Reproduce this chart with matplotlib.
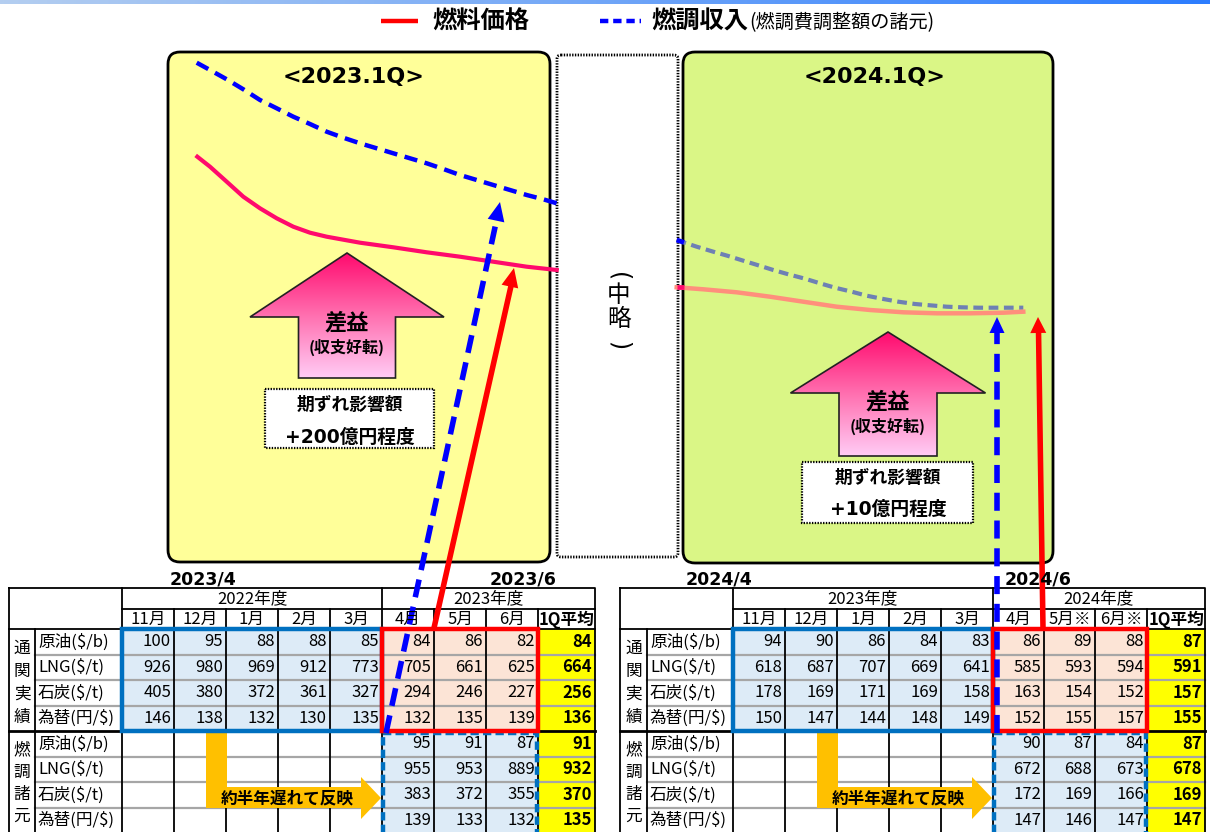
import numpy as np
import matplotlib
matplotlib.use('Agg')
import matplotlib.pyplot as plt
from matplotlib.patches import FancyBboxPatch, Rectangle, Polygon
from matplotlib.colors import LinearSegmentedColormap

plt.rcParams['font.family'] = ['Noto Sans CJK JP', 'DejaVu Sans']
plt.rcParams['lines.scale_dashes'] = False

# ---------------- data ----------------
legend_labels = ['燃料価格', '燃調収入']
legend_note = '(燃調費調整額の諸元)'
panel_titles = ['<2023.1Q>', '<2024.1Q>']
gain_label = '差益'
gain_note = '(収支好転)'
impact_label = '期ずれ影響額'
impact_values = ['+200億円程度', '+10億円程度']
omit_word = '中略'
date_labels_left = ['2023/4', '2023/6']
date_labels_right = ['2024/4', '2024/6']
fiscal_left = ['2022年度', '2023年度']
fiscal_right = ['2023年度', '2024年度']
months_left = ['11月', '12月', '1月', '2月', '3月', '4月', '5月', '6月']
months_right = ['11月', '12月', '1月', '2月', '3月', '4月', '5月※', '6月※']
avg_header = '1Q平均'
items = ['原油($/b)', 'LNG($/t)', '石炭($/t)', '為替(円/$)']
group_labels = ['通関実績', '燃調諸元']
lag_label = '約半年遅れて反映'

customs_2023 = [[100, 95, 88, 88, 85, 84, 86, 82],
                [926, 980, 969, 912, 773, 705, 661, 625],
                [405, 380, 372, 361, 327, 294, 246, 227],
                [146, 138, 132, 130, 135, 132, 135, 139]]
customs_2023_avg = [84, 664, 256, 136]
fuel_2023 = [[95, 91, 87], [955, 953, 889], [383, 372, 355], [139, 133, 132]]
fuel_2023_avg = [91, 932, 370, 135]

customs_2024 = [[94, 90, 86, 84, 83, 86, 89, 88],
                [618, 687, 707, 669, 641, 585, 593, 594],
                [178, 169, 171, 169, 158, 163, 154, 152],
                [150, 147, 144, 148, 149, 152, 155, 157]]
customs_2024_avg = [87, 591, 157, 155]
fuel_2024 = [[90, 87, 84], [672, 688, 673], [172, 169, 166], [147, 146, 147]]
fuel_2024_avg = [87, 678, 169, 147]

# schematic curves (figure pixel units)
price_2023_x = [197.3, 210, 226.7, 243.3, 260, 276.7, 293.3, 310, 326.7, 360, 393.3, 426.7, 460, 493.3, 526.7, 556.7]
price_2023_y = [156.7, 166.7, 181.7, 196.7, 208.3, 218.3, 226.7, 232.7, 236.7, 242.7, 247.3, 252.3, 256.7, 261.7, 266.7, 270]
income_2023_x = [196.7, 210, 226.7, 243.3, 260, 276.7, 293.3, 310, 326.7, 343.3, 360, 376.7, 393.3, 410, 426.7,
                 443.3, 460, 476.7, 493.3, 510, 526.7, 543.3, 556.7]
income_2023_y = [62.7, 70, 79.3, 89.3, 100, 108.3, 116.7, 124, 131.7, 137.7, 143.3, 148.3, 153.3, 158.3, 163.3,
                 169, 175, 180, 185, 190, 195, 199.3, 203.3]
price_2024_x = [676.7, 703.3, 736.7, 770, 803.3, 836.7, 870, 903.3, 936.7, 970, 1003.3, 1023.3]
price_2024_y = [287.3, 289.3, 292.3, 296.7, 301.7, 306.7, 310, 312.3, 313.3, 313.3, 312.7, 311.7]
income_2024_x = [676.7, 696.7, 713.3, 728.3, 743.3, 758.3, 773.3, 788.3, 805, 820, 835, 851.7, 866.7, 881.7,
                 898.3, 915, 930, 946.7, 961.7, 978.3, 995, 1010, 1023.3]
income_2024_y = [240, 246.7, 251.7, 256, 260.7, 265.3, 270, 274.3, 278.7, 283.3, 287.7, 291.7, 295.7, 298.7,
                 301.7, 304, 305.3, 306.7, 307.3, 307.7, 307.7, 307.7, 307.7]

W, H = 1210, 832
fig = plt.figure(figsize=(W / 100, H / 100), dpi=100)
ax = fig.add_axes([0, 0, 1, 1])
ax.axis('off')

BLUE_BOX = '#0070C0'
CELL_BLUE = '#DDEBF7'
CELL_SALMON = '#FCE4D6'
YELLOW = '#FFFF00'
ORANGE = '#FFC000'


def txt(x, y, s, size, bold=False, ha='center', va='center', family=None, color='black', z=10, rot=0):
    kw = {}
    if family is not None:
        kw['family'] = family
    ax.text(x, y, s, fontsize=size, fontweight='bold' if bold else 'normal',
            ha=ha, va=va, color=color, zorder=z, rotation=rot, **kw)


def head(tip, tail, length, width, color, z=9):
    tip = np.array(tip, float)
    tail = np.array(tail, float)
    d = tip - tail
    d /= np.hypot(*d)
    n = np.array([-d[1], d[0]])
    base = tip - d * length
    ax.add_patch(Polygon([tip, base + n * width / 2, base - n * width / 2],
                         closed=True, facecolor=color, edgecolor='none', zorder=z))


# ---------------- top gradient bar ----------------
bar = np.linspace(0, 1, 512)[None, :]
cm_bar = LinearSegmentedColormap.from_list('bar', ['#B4CEF0', '#2C7DFF'])
ax.imshow(bar, extent=(0, W, 4.5, 0), cmap=cm_bar, aspect='auto', zorder=1)

# ---------------- legend ----------------
ax.plot([381, 418], [21, 21], color='#FF0000', lw=3.2, solid_capstyle='butt', zorder=5)
txt(432, 22, legend_labels[0], 17.5, bold=True, ha='left')
ax.plot([600, 641], [21, 21], color='#0000FF', lw=3.2, dashes=(6, 3.5), zorder=5)
txt(651, 22, legend_labels[1], 17.5, bold=True, ha='left')
txt(749, 23, legend_note, 13.8, ha='left')

# ---------------- panels ----------------
ax.add_patch(FancyBboxPatch((168, 52), 382, 510, boxstyle='round,pad=0,rounding_size=12',
                            facecolor='#FFFF99', edgecolor='black', lw=2, zorder=2))
ax.add_patch(FancyBboxPatch((683, 52), 370, 511, boxstyle='round,pad=0,rounding_size=12',
                            facecolor='#DAF686', edgecolor='black', lw=2, zorder=2))
ax.add_patch(FancyBboxPatch((557, 55), 121, 502, boxstyle='round,pad=0,rounding_size=4',
                            facecolor='white', edgecolor='black', lw=2, linestyle=(0, (1, 1)), zorder=2))

txt(354, 77, panel_titles[0], 16, bold=True, family='DejaVu Sans')
txt(875, 77, panel_titles[1], 16, bold=True, family='DejaVu Sans')

# vertical "(中略)"
txt(619, 277, '(', 17, family='DejaVu Sans', rot=-90)
txt(619, 296, omit_word[0], 17)
txt(619, 320, omit_word[1], 17)
txt(619, 346, ')', 17, family='DejaVu Sans', rot=-90)

# curves left
ax.plot(income_2023_x, income_2023_y, color='#0000FF', lw=3.2, dashes=(9.5, 5.5), zorder=6)
ax.plot(price_2023_x, price_2023_y, color='#FF0A6C', lw=3.0, zorder=6)

# curves right (faded pattern style)
ax.plot(income_2024_x, income_2024_y, color='#6E80B4', lw=3.0, dashes=(7, 4), zorder=6)
ax.plot(price_2024_x, price_2024_y, color='#FF8F7C', lw=3.2, zorder=6)
ax.plot([income_2024_x[0], 684], [income_2024_y[0], np.interp(684, income_2024_x, income_2024_y)],
        color='#0000FF', lw=3.4, solid_capstyle='butt', zorder=6.5)
ax.plot([price_2024_x[0], 684], [price_2024_y[0], price_2024_y[0]],
        color='#FF0A6C', lw=3.4, solid_capstyle='butt', zorder=6.5)


# gradient arrows
def grad_arrow(cx, tip_y, wing_y, half_w, shaft_half, bottom):
    verts = [(cx, tip_y), (cx + half_w, wing_y), (cx + shaft_half, wing_y), (cx + shaft_half, bottom),
             (cx - shaft_half, bottom), (cx - shaft_half, wing_y), (cx - half_w, wing_y)]
    poly = Polygon(verts, closed=True, facecolor='none', edgecolor='#222222', lw=1.2, zorder=5)
    ax.add_patch(poly)
    g = np.linspace(0, 1, 256)[:, None]
    cmap = LinearSegmentedColormap.from_list('pk', ['#FF0A6E', '#FF70B0', '#FFCCF5'])
    im = ax.imshow(g, extent=(cx - half_w, cx + half_w, bottom, tip_y), origin='upper',
                   cmap=cmap, aspect='auto', zorder=4)
    im.set_clip_path(poly)


grad_arrow(347, 253, 317, 97, 48.5, 378)
grad_arrow(888, 332, 393, 97.5, 49, 456)

txt(347, 323, gain_label, 16, bold=True)
txt(347, 347, gain_note, 11.5, bold=True)
txt(888, 402, gain_label, 16, bold=True)
txt(888, 426, gain_note, 11.5, bold=True)

ax.add_patch(Rectangle((265, 389), 169, 59, facecolor='white', edgecolor='black', lw=1.6,
                       linestyle=(0, (1, 1)), zorder=5))
ax.add_patch(Rectangle((802, 462), 171, 61, facecolor='white', edgecolor='black', lw=1.6,
                       linestyle=(0, (1, 1)), zorder=5))
txt(350, 405, impact_label, 12.8, bold=True)
txt(350, 437, impact_values[0], 13.5, bold=True, family=['DejaVu Sans', 'Noto Sans CJK JP'])
txt(888, 478, impact_label, 12.8, bold=True)
txt(888, 509, impact_values[1], 13.5, bold=True, family=['DejaVu Sans', 'Noto Sans CJK JP'])

# ---------------- tables ----------------
row_edges = [629 + 25.5 * i for i in range(9)]


def draw_table(edges, months, fiscal, customs, customs_avg, fuel, fuel_avg):
    x0, xl, xi = edges[0], edges[1], edges[2]
    mx = edges[2:11]
    xa0, xa1 = edges[10], edges[11]
    top, h1, h2 = 588, 609, 629
    bottom = row_edges[-1]
    # fills
    for r in range(8):
        y0, y1 = row_edges[r], row_edges[r + 1]
        for c in range(8):
            if r < 4:
                fc = CELL_BLUE if c < 5 else CELL_SALMON
            else:
                fc = 'white' if c < 5 else CELL_BLUE
            ax.add_patch(Rectangle((mx[c], y0), mx[c + 1] - mx[c], y1 - y0, facecolor=fc,
                                   edgecolor='none', zorder=3))
        ax.add_patch(Rectangle((xa0, y0), xa1 - xa0, y1 - y0, facecolor=YELLOW, edgecolor='none', zorder=3))
    # grey row separators
    for r in [1, 2, 3, 5, 6, 7]:
        ax.plot([xl, xa1], [row_edges[r]] * 2, color='#A6A6A6', lw=1.6, zorder=4)
    # black lines
    lk = dict(color='black', lw=1.3, zorder=4.5)
    ax.plot([x0, xa1, xa1, x0, x0], [top, top, bottom, bottom, top], **lk)
    ax.plot([xi, xa1], [h1, h1], **lk)
    ax.plot([x0, xa1], [h2, h2], **lk)
    ax.plot([x0, xa1], [row_edges[4]] * 2, color='black', lw=2.0, zorder=4.5)
    ax.plot([xl, xl], [h2, bottom], **lk)
    ax.plot([xi, xi], [top, bottom], **lk)
    ax.plot([mx[5], mx[5]], [top, bottom], **lk)
    for c in [1, 2, 3, 4, 6, 7, 8]:
        ax.plot([mx[c], mx[c]], [h1, bottom], **lk)
    # headers
    txt((mx[0] + mx[5]) / 2, 598.5, fiscal[0], 12)
    txt((mx[5] + xa1) / 2, 598.5, fiscal[1], 12)
    for c in range(8):
        txt((mx[c] + mx[c + 1]) / 2, 619.5, months[c], 12)
    txt((xa0 + xa1) / 2, 619.5, avg_header, 12, bold=True)
    # group labels
    for g, ys in zip(group_labels, [[648, 671, 694, 717], [750, 772, 794, 816]]):
        for ch, yy in zip(g, ys):
            txt((x0 + xl) / 2, yy, ch, 12)
    # items + values
    for r in range(8):
        yc = (row_edges[r] + row_edges[r + 1]) / 2
        txt(xl + 3, yc, items[r % 4], 12, ha='left')
        if r < 4:
            vals = customs[r]
            for c in range(8):
                txt(mx[c + 1] - 3, yc, str(vals[c]), 12, ha='right')
            txt(xa1 - 3, yc, str(customs_avg[r]), 12, bold=True, ha='right')
        else:
            vals = fuel[r - 4]
            for c in range(3):
                txt(mx[c + 6] - 3, yc, str(vals[c]), 12, ha='right')
            txt(xa1 - 3, yc, str(fuel_avg[r - 4]), 12, bold=True, ha='right')
    # highlight boxes
    ax.add_patch(Rectangle((mx[0], h2), mx[5] - mx[0], row_edges[4] - h2, facecolor='none',
                           edgecolor=BLUE_BOX, lw=3.2, zorder=7))
    ax.add_patch(Rectangle((mx[5], h2), mx[8] - mx[5], row_edges[4] - h2, facecolor='none',
                           edgecolor='#FF0000', lw=3.2, zorder=7.2))
    ax.add_patch(Rectangle((mx[5] + 1, row_edges[4] + 2), mx[8] - mx[5] - 2, bottom - row_edges[4],
                           facecolor='none', edgecolor=BLUE_BOX, lw=3.2, linestyle=(0, (6, 3)), zorder=7))
    # orange lag arrow
    vx0, vx1 = mx[1] + 32, mx[1] + 53
    hx1 = mx[5] - 21
    tipx = mx[5] - 1
    ax.add_patch(Polygon([(vx0, row_edges[4] + 2), (vx1, row_edges[4] + 2), (vx1, 787), (hx1, 787),
                          (hx1, 777), (tipx, 798), (hx1, 819), (hx1, 808), (vx0, 808)],
                         closed=True, facecolor=ORANGE, edgecolor='none', zorder=6))
    txt((vx0 + hx1) / 2 + 4, 798, lag_label, 12, bold=True, z=11)


left_edges = [9, 35, 122, 174, 226, 278, 330, 382, 434, 486, 538, 595]
right_edges = [620, 647, 733, 785, 837, 889, 941, 993, 1044, 1095, 1147, 1205]
draw_table(left_edges, months_left, fiscal_left, customs_2023, customs_2023_avg, fuel_2023, fuel_2023_avg)
draw_table(right_edges, months_right, fiscal_right, customs_2024, customs_2024_avg, fuel_2024, fuel_2024_avg)

# date labels
txt(203, 579, date_labels_left[0], 12.5, bold=True, family='DejaVu Sans', z=12)
txt(523, 579, date_labels_left[1], 12.5, bold=True, family='DejaVu Sans', z=12)
txt(719, 579, date_labels_right[0], 12.5, bold=True, family='DejaVu Sans', z=12)
txt(1038, 579, date_labels_right[1], 12.5, bold=True, family='DejaVu Sans', z=12)

# ---------------- long link arrows ----------------
ax.plot([386, 497], [733, 218], color='#0000FF', lw=4, dashes=(13, 7), zorder=9)
head((500, 202), (386, 733), 19, 17, '#0000FF')
ax.plot([434, 511], [628, 286], color='#FF0000', lw=4, solid_capstyle='butt', zorder=9)
head((514, 268), (434, 628), 19, 17, '#FF0000')
ax.plot([997, 997], [733, 330], color='#0000FF', lw=4, dashes=(13, 7), zorder=9)
head((997, 317), (997, 733), 16, 15, '#0000FF')
ax.plot([1043, 1038.5], [628, 330], color='#FF0000', lw=4, solid_capstyle='butt', zorder=9)
head((1038, 317), (1043, 628), 16, 16, '#FF0000')

ax.set_xlim(0, W)
ax.set_ylim(H, 0)
fig.savefig('out.png', dpi=100)
